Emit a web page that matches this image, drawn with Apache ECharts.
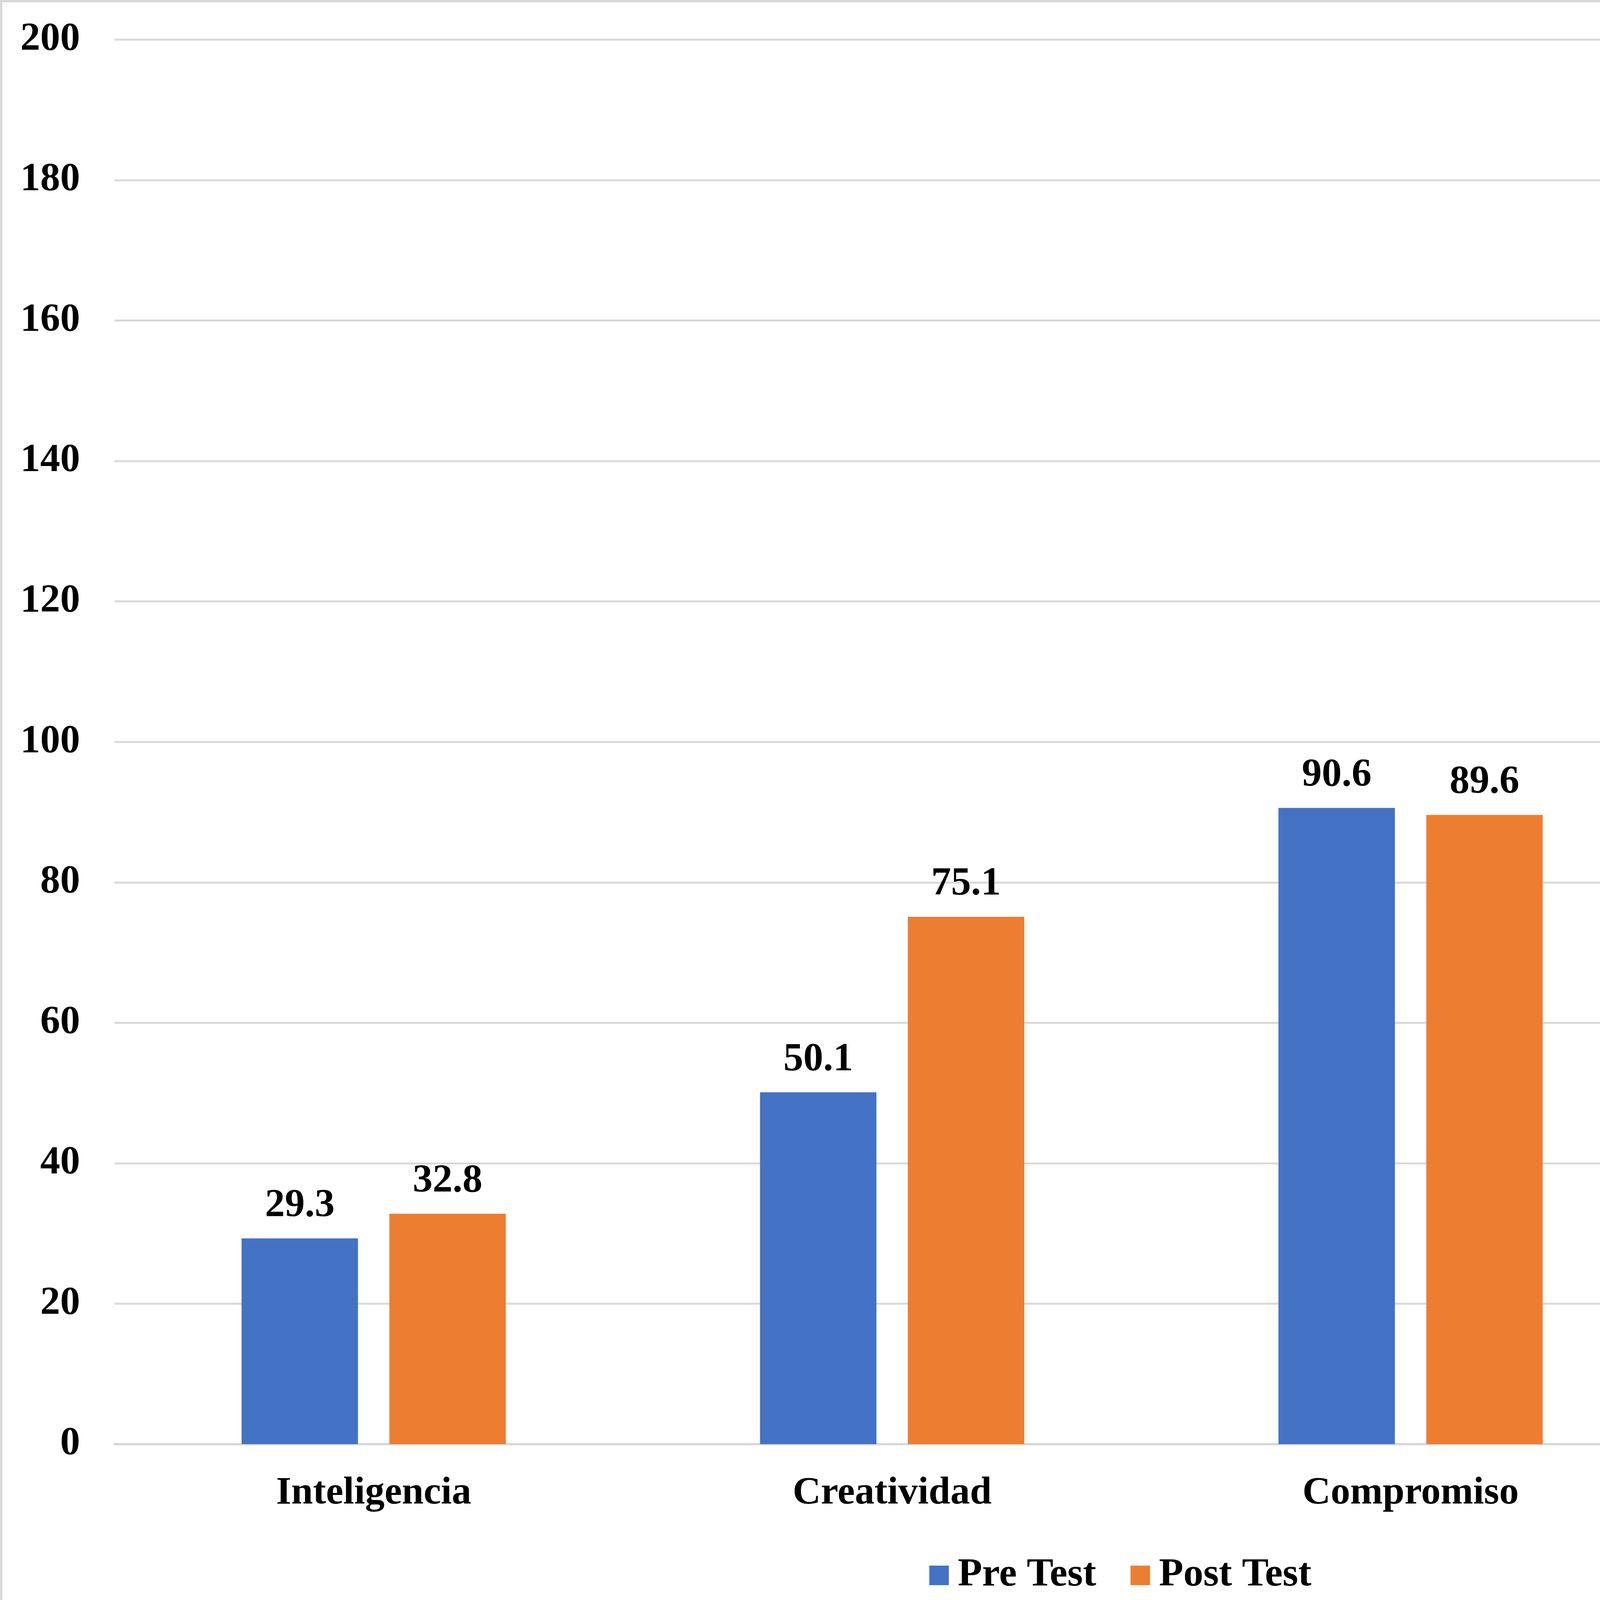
<!DOCTYPE html>
<html>
<head>
<meta charset="utf-8">
<script src="https://cdn.jsdelivr.net/npm/echarts@6/dist/echarts.min.js"></script>
<style>
html,body{margin:0;padding:0;background:#fff;}
#c{width:5697px;height:4135px;}
</style>
</head>
<body>
<div id="c"></div>
<script>
const categories = ['Inteligencia', 'Creatividad', 'Compromiso', 'Autoconcepto'];
const preTest = [29.3, 50.1, 90.6, 175.6];
const postTest = [32.8, 75.1, 89.6, 157];
const seriesNames = ['Pre Test', 'Post Test'];
const yTicks = {min: 0, max: 200, interval: 20};

const FONT = '"Liberation Serif", "Times New Roman", serif';
const chart = echarts.init(document.getElementById('c'), null, {renderer: 'canvas'});
const labelStyle = {
  show: true, position: 'top', distance: 32,
  color: '#000', fontFamily: FONT, fontWeight: 'bold', fontSize: 102
};
chart.setOption({
  animation: false,
  backgroundColor: '#fff',
  graphic: [{
    type: 'rect', left: 0, top: 0,
    shape: {x: 3, y: 3, width: 5691, height: 4129},
    style: {fill: 'none', stroke: '#d9d9d9', lineWidth: 6}
  }],
  grid: {left: 293, right: 95, top: 101.5, bottom: 438, containLabel: false},
  legend: {
    data: seriesNames,
    left: 2374, top: 3977,
    itemWidth: 50, itemHeight: 50, itemGap: 88,
    icon: 'rect',
    textStyle: {fontFamily: FONT, fontWeight: 'bold', fontSize: 102, color: '#000', padding: [0,0,0,18]}
  },
  xAxis: {
    type: 'category', data: categories,
    axisLine: {lineStyle: {color: '#d9d9d9', width: 6}},
    axisTick: {show: false},
    axisLabel: {margin: 76, color: '#000', fontFamily: FONT, fontWeight: 'bold', fontSize: 100}
  },
  yAxis: {
    type: 'value', min: yTicks.min, max: yTicks.max, interval: yTicks.interval,
    axisLine: {show: false}, axisTick: {show: false},
    splitLine: {lineStyle: {color: '#d9d9d9', width: 5}},
    axisLabel: {margin: 88, color: '#000', fontFamily: FONT, fontWeight: 'bold', fontSize: 102}
  },
  series: [
    {name: seriesNames[0], type: 'bar', data: preTest, barWidth: 298, barGap: '27%',
     itemStyle: {color: '#4472C4'}, label: labelStyle},
    {name: seriesNames[1], type: 'bar', data: postTest, barWidth: 298, barGap: '27%',
     itemStyle: {color: '#ED7D31'}, label: labelStyle}
  ]
});
</script>
</body>
</html>
